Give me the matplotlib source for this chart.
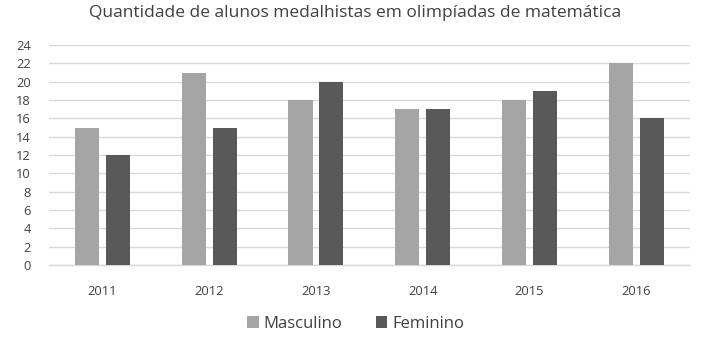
import numpy as np
import matplotlib.pyplot as plt

plt.rcParams['font.family'] = ['Open Sans', 'DejaVu Sans']

anos = ['2011', '2012', '2013', '2014', '2015', '2016']
masculino = [15, 21, 18, 17, 18, 22]
feminino = [12, 15, 20, 17, 19, 16]

cor_masc = '#a5a5a5'
cor_fem = '#595959'

fig = plt.figure(figsize=(7.11, 3.47), dpi=100)
ax = fig.add_axes([0.069, 0.236, 0.901, 0.634])

x = np.arange(len(anos))
w = 0.225
ax.bar(x - 0.145, masculino, w, color=cor_masc, label='Masculino', zorder=3)
ax.bar(x + 0.145, feminino, w, color=cor_fem, label='Feminino', zorder=3)

ax.set_xlim(-0.5, len(anos) - 0.5)
ax.set_ylim(0, 24)
ax.set_yticks(range(0, 25, 2))
ax.set_xticks(x)
ax.set_xticklabels(anos)
ax.grid(axis='y', color='#d9d9d9', linewidth=1, zorder=0)

for s in ['top', 'right', 'left']:
    ax.spines[s].set_visible(False)
ax.spines['bottom'].set_color('#d9d9d9')
ax.spines['bottom'].set_linewidth(1)
ax.tick_params(axis='both', length=0, labelsize=9.3, colors='#404040')
ax.tick_params(axis='x', pad=14)
ax.tick_params(axis='y', pad=13)

fig.suptitle('Quantidade de alunos medalhistas em olimpíadas de matemática',
             x=0.5, y=0.985, fontsize=12.5, color='#404040')

fig.legend(loc='lower center', bbox_to_anchor=(0.5, 0.0), ncol=2, frameon=False,
           fontsize=12, handlelength=0.7, handleheight=0.7, handletextpad=0.3,
           columnspacing=2.0, labelcolor='#404040')

fig.savefig('out.png', dpi=100)
